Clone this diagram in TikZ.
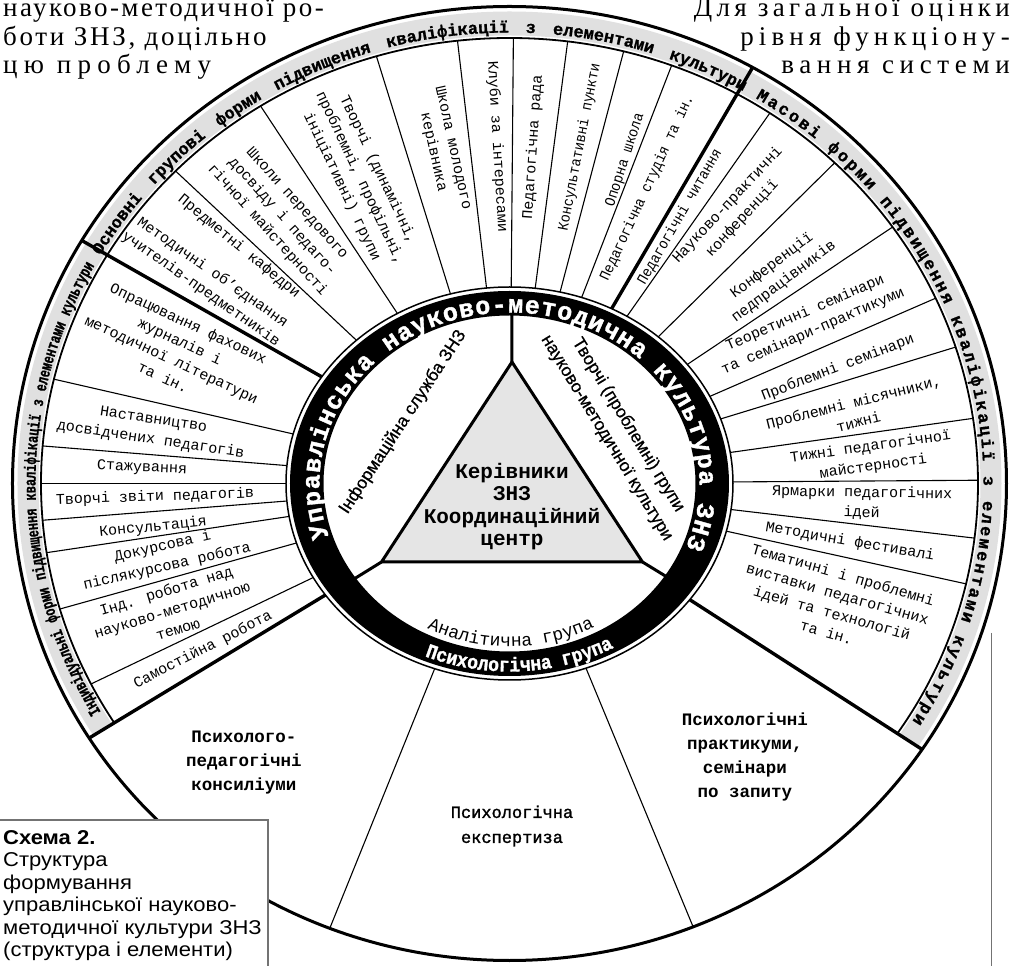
\documentclass[tikz,border=0pt]{standalone}
\usepackage{fontspec}
\setmainfont{Liberation Serif}
\newfontfamily\itemfont{Liberation Mono}
\newfontfamily\narrowfont[FakeStretch=0.9]{Liberation Mono}
\newfontfamily\medfont[FakeBold=1.5]{Liberation Mono}
\newfontfamily\bandfont[FakeBold=1]{Liberation Mono Bold}
\newfontfamily\bandnarrow[FakeBold=1,FakeStretch=0.72]{Liberation Mono Bold}
\newfontfamily\ringfont[FakeBold=1.5]{Liberation Mono Bold}
\newfontfamily\psyfont[FakeBold=1.5,FakeStretch=0.9]{Liberation Mono Bold}
\newfontfamily\sectfont[FakeBold=0.6]{Liberation Sans}
\newfontfamily\capfont[FakeStretch=1.1]{Liberation Sans}
\newfontfamily\pagefont{Liberation Serif}
\usetikzlibrary{decorations.text}
\definecolor{bandgrey}{gray}{0.88}
\definecolor{trigrey}{gray}{0.9}
\definecolor{framegrey}{gray}{0.45}

\begin{document}
\begin{tikzpicture}[x=1pt, y=1pt,
    sep/.style={line width=1.1pt},
    thicksep/.style={line width=3.4pt},
    item/.style={font=\itemfont\fontsize{15}{20}\selectfont, align=center, inner sep=0pt},
    secttxt/.style={font=\sectfont\fontsize{17.5}{25}\selectfont, align=center, inner sep=0pt},
    chief/.style={font=\itemfont\bfseries\fontsize{21}{22.5}\selectfont, align=center, inner sep=0pt},
    psyb/.style={font=\itemfont\bfseries\fontsize{17.5}{24}\selectfont, align=center, inner sep=0pt},
    psyr/.style={font=\medfont\fontsize{17}{25}\selectfont, align=center, inner sep=0pt},
    capt/.style={font=\capfont\fontsize{20}{22.5}\selectfont, align=left, inner sep=0pt},
    pagetxt/.style={font=\pagefont\fontsize{27}{29}\selectfont, inner sep=0pt}]

    % Fix the canvas to the size of the page
    \useasboundingbox (-509.5,-482.5) rectangle (503.5,483.5);
    \fill[white] (-509.5,-482.5) rectangle (503.5,483.5);

    % Semi-axes of the outer wheel (o), of the band's inner edge (b)
    % and of the thin line round the black ring (r)
    \pgfmathsetmacro{\oa}{497}
    \pgfmathsetmacro{\ob}{477}
    \pgfmathsetmacro{\ba}{468.5}
    \pgfmathsetmacro{\bb}{445.5}
    \pgfmathsetmacro{\ra}{223.5}
    \pgfmathsetmacro{\rb}{196.5}

    % Grey band, everywhere but over the bottom sector
    \begin{scope}
      \clip (0,0) -- (-32.8:800) -- (30:800) -- (90:800) -- (150:800) -- (211.2:800) -- cycle;
      \fill[bandgrey, even odd rule] (0,0) ellipse [x radius=492, y radius=472]
                                     (0,0) ellipse [x radius=471, y radius=448];
      \draw[line width=1.8pt] (0,0) ellipse [x radius=\ba, y radius=\bb];
    \end{scope}
    \draw[line width=3pt] (0,0) ellipse [x radius=\oa, y radius=\ob];

    % Thin lines between the forms, from the ring out to the band
    \foreach \ang in {136.9, 123.4, 107.3, 96.7, 89.5, 82.5, 75.2, 68.8,
                      54.9, 44.6, 33.8, 23.5, 17.0, 8.0, 0.4, -6.7, -12.4,
                      167.1, 175.4, 180, 184.5, 188.5, 195.6, 205.6}{
      \pgfmathsetmacro{\rin}{\ra/sqrt(cos(\ang)^2+(\ra/\rb*sin(\ang))^2)}
      \pgfmathsetmacro{\rout}{\ba/sqrt(cos(\ang)^2+(\ba/\bb*sin(\ang))^2)}
      \draw[sep] (\ang:\rin) -- (\ang:\rout);
    }

    % Thin lines of the bottom sector go to the rim
    \foreach \ang in {248, 292.5}{
      \pgfmathsetmacro{\rin}{\ra/sqrt(cos(\ang)^2+(\ra/\rb*sin(\ang))^2)}
      \pgfmathsetmacro{\rout}{\oa/sqrt(cos(\ang)^2+(\oa/\ob*sin(\ang))^2)}
      \draw[sep] (\ang:\rin) -- (\ang:\rout);
    }

    % Thick lines between the four groups
    \foreach \ang in {150.4, 59.7, -32.8, 211.2}{
      \pgfmathsetmacro{\rin}{\ra/sqrt(cos(\ang)^2+(\ra/\rb*sin(\ang))^2)}
      \pgfmathsetmacro{\rout}{\oa/sqrt(cos(\ang)^2+(\oa/\ob*sin(\ang))^2)}
      \draw[thicksep] (\ang:\rin) -- (\ang:\rout);
    }

    % The black ring with its thin outer line
    \draw[line width=1.5pt] (0,0) ellipse [x radius=\ra, y radius=\rb];
    \fill[black, even odd rule] (0,0) ellipse [x radius=219.5, y radius=192.5]
                                (0,0) ellipse [x radius=186, y radius=168];

    % Triangle in the middle and the three spokes from its corners
    \coordinate (apex) at (2.5,121.5);
    \coordinate (bl) at (-128,-78.5);
    \coordinate (br) at (133,-78.5);
    \coordinate (up) at (2.5,171);
    \coordinate (dl) at (-155.5,-95.5);
    \coordinate (dr) at (157.5,-93.5);
    \draw[line width=3pt, fill=trigrey] (apex) -- (bl) -- (br) -- cycle;
    \draw[line width=3pt] (apex) -- (up) (bl) -- (dl) (br) -- (dr);

    \node[chief] (kerivn) at (2.5,-23) {Керівники\\ЗНЗ\\Координаційний\\центр};
    \node[secttxt, rotate=56.6] (infsl) at (-106.5,61.5) {Інформаційна служба ЗНЗ};
    \node[secttxt, rotate=-58.6] (tvgr) at (108,52) {Творчі (проблемні) групи\\науково-методичної культури};

    % Texts along the ring
    \path[decorate, decoration={text along path, text align={fit to path},
        text={|\color{white}\ringfont\fontsize{25}{25}\selectfont|Управлінська науково-методична культура ЗНЗ}}]
        (198:190 and 171) arc[start angle=198, end angle=-22, x radius=190, y radius=171];
    \path[decorate, decoration={text along path, text align=center,
        text={|\color{white}\psyfont\fontsize{20}{20}\selectfont|Психологічна група}}]
        (236:214 and 188) arc[start angle=236, end angle=310, x radius=214, y radius=188];
    \path[decorate, decoration={text along path, text align=center,
        text={|\itemfont\fontsize{18}{18}\selectfont|Аналітична група}}]
        (232:180 and 163) arc[start angle=232, end angle=309, x radius=180, y radius=163];

    % Titles of the three groups in the band
    \path[decorate, decoration={text along path,
        text align={fit to path stretching spaces, left indent=6pt, right indent=6pt},
        text={|\bandfont\fontsize{17}{17}\selectfont|Основні групові форми підвищення кваліфікації з елементами культури}}]
        (150.4:474 and 451) arc[start angle=150.4, end angle=59.7, x radius=474, y radius=451];
    \path[decorate, decoration={text along path,
        text align={fit to path, left indent=8pt, right indent=8pt},
        text={|\bandfont\fontsize{17}{17}\selectfont|Масові форми підвищення кваліфікації з елементами культури}}]
        (59.7:474 and 451) arc[start angle=59.7, end angle=-32.8, x radius=474, y radius=451];
    \path[decorate, decoration={text along path,
        text align={fit to path stretching spaces, left indent=6pt, right indent=6pt},
        text={|\bandnarrow\fontsize{16.5}{16.5}\selectfont|Індивідуальні форми підвищення кваліфікації з елементами культури}}]
        (211.2:474 and 451) arc[start angle=211.2, end angle=150.4, x radius=474, y radius=451];

    % Group forms (top)
    \foreach \ang/\rad/\rot/\nm/\txt in {
        138.8/359.6/-39.5/predm/Предметні кафедри,
        146.2/364.4/-35/metob/Методичні об’єднання\\учителів-предметників,
        130.5/350.4/-48/shkoly/Школи передового\\досвіду і педаго-\\гічної майстерності,
        116.1/340/-64.7/tvdyn/{Творчі (динамічні,\\проблемні, профільні,\\ініціативні) групи},
        101.3/340/-77.5/shkmol/Школа молодого\\керівника,
        92.1/336.7/-86.5/kluby/Клуби за інтересами,
        86/337.3/86/pedrada/Педагогічна рада,
        78.2/343.8/79/konsp/{\narrowfont Консультативні пункти},
        70.3/343.5/72/opor/{\narrowfont Опорна школа},
        65/326/65/studia/{\narrowfont Педагогічна студія та ін.}}{
      \node[item, rotate=\rot] (\nm) at (\ang:\rad) {\txt};
    }

    % Mass forms (right)
    \foreach \ang/\rad/\rot/\nm/\txt in {
        57.4/316.4/60/pedchyt/{\narrowfont Педагогічні читання},
        50.3/353/47/nauk/Науково-практичні\\конференції,
        38/340.6/37/konf/Конференції\\педпрацівників,
        28.3/340.3/23.5/teor/Теоретичні семінари\\та семінари-практикуми,
        19.4/348.2/21/probsem/Проблемні семінари,
        11.7/353.8/14/probmis/{Проблемні місячники,\\тижні},
        4.2/363.5/8/tyzhni/Тижні педагогічної\\майстерності,
        -3.2/353/-1/yarm/Ярмарки педагогічних\\ідей,
        -9.75/345.5/-9.7/fest/Методичні фестивалі,
        -20.2/346.7/-16/vyst/Тематичні і проблемні\\виставки педагогічних\\ідей та технологій\\та ін.}{
      \node[item, rotate=\rot] (\nm) at (\ang:\rad) {\txt};
    }

    % Individual forms (left)
    \foreach \ang/\rad/\rot/\nm/\txt in {
        158.2/359.2/-25/oprac/Опрацювання фахових\\журналів і\\методичної літератури\\та ін.,
        171.5/361.5/-8.5/nastav/Наставництво\\досвідчених педагогів,
        177.6/367.8/-2.5/stazh/Стажування,
        182.2/354.8/2/zvity/Творчі звіти педагогів,
        187/359.1/6/kons/Консультація,
        192/352.3/13/dokurs/Докурсова і\\післякурсова робота,
        200.5/360.4/17/indrob/Інд. робота над\\науково-методичною\\темою,
        208.5/348.8/27/samost/Самостійна робота}{
      \node[item, rotate=\rot] (\nm) at (\ang:\rad) {\txt};
    }

    % Bottom sector
    \node[psyb] (konsil) at (-265.5,-279.5) {Психолого-\\педагогічні\\консиліуми};
    \node[psyr] (ekspert) at (2.5,-342.5) {Психологічна\\експертиза};
    \node[psyb] (prakt) at (235.5,-273.5) {Психологічні\\практикуми,\\семінари\\по запиту};

    % Caption box and page rule
    \fill[white] (-514.5,-336.5) rectangle (-241.5,-495);
    \draw[framegrey, line width=1.2pt] (-241.5,-495) -- (-241.5,-336.5) -- (-514.5,-336.5);
    \node[capt, anchor=north west] (schema) at (-506.5,-346.5)
      {\textbf{Схема 2.}\\Структура\\формування\\управлінської науково-\\методичної культури ЗНЗ\\(структура і елементи)};
    \draw[framegrey, line width=1.2pt] (482,-149.5) -- (482,-490);

    % Running text of the page
    \node[pagetxt, anchor=base west] (pl1) at (-506.5,466.5) {\addfontfeature{LetterSpace=9}науково-методичної ро-};
    \node[pagetxt, anchor=base west] (pl2) at (-506.5,438) {\addfontfeature{LetterSpace=10}боти ЗНЗ, доцільно};
    \node[pagetxt, anchor=base west] (pl3) at (-506.5,409.5) {\addfontfeature{LetterSpace=23}цю проблему};
    \node[pagetxt, anchor=base east] (pr1) at (500.5,466.5) {\addfontfeature{LetterSpace=16}Для загальної оцінки};
    \node[pagetxt, anchor=base east] (pr2) at (500.5,438) {\addfontfeature{LetterSpace=19}рівня функціону-};
    \node[pagetxt, anchor=base east] (pr3) at (500.5,409.5) {\addfontfeature{LetterSpace=21}вання системи};

\end{tikzpicture}
\end{document}
